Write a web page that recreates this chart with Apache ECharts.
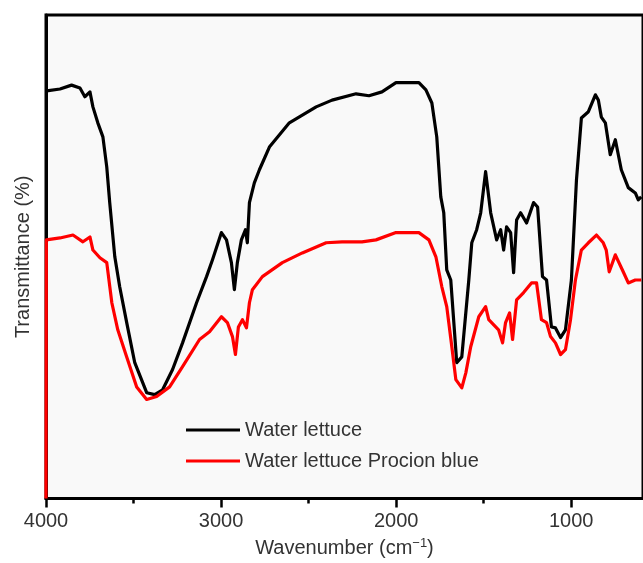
<!DOCTYPE html>
<html><head><meta charset="utf-8">
<script src="https://cdn.jsdelivr.net/npm/echarts@6/dist/echarts.min.js"></script>
<style>html,body{margin:0;padding:0;background:#fff}#c{width:643px;height:563px}</style>
</head><body><div id="c"></div><script>
const seriesNames = ['Water lettuce', 'Water lettuce Procion blue'];
const majorTicks = [4000, 3000, 2000, 1000];
const minorTicks = [3500, 2500, 1500];
const lettuceWn = [3996,3920,3854,3806,3778,3749,3732,3704,3675,3653,3636,3607,3579,3539,3493,3425,3379,3334,3277,3220,3140,3083,3049,2998,2969,2941,2924,2907,2884,2861,2850,2838,2810,2781,2724,2610,2457,2366,2229,2155,2081,2001,1870,1830,1796,1768,1745,1728,1711,1688,1654,1625,1585,1568,1540,1517,1489,1460,1426,1403,1386,1369,1346,1329,1312,1289,1255,1215,1192,1164,1141,1113,1090,1061,1033,999,970,942,902,862,845,828,805,777,748,714,674,634,617,600];
const lettuceT = [84.3,84.7,85.5,84.9,83.1,84.1,81.0,77.7,74.8,68.6,61.2,50.0,43.8,36.4,28.1,21.9,21.5,22.5,26.7,32.2,40.5,45.9,49.4,55.0,53.5,48.8,43.2,48.8,53.5,55.6,52.9,61.2,65.3,68.0,72.7,77.7,81.0,82.4,83.7,83.3,84.1,86.0,86.0,84.5,81.8,74.8,62.4,59.1,47.3,45.2,28.1,29.3,45.2,52.9,55.6,59.1,67.6,59.1,53.5,55.6,51.4,56.2,55.0,46.7,57.6,59.1,57.0,61.2,60.3,45.9,45.2,35.5,35.3,33.3,34.9,45.2,65.9,78.7,80.0,83.5,82.4,78.9,77.7,71.1,74.2,68.0,64.3,63.2,61.8,62.4];
const procionWn = [4000,3998,3920,3846,3789,3749,3732,3692,3653,3624,3590,3539,3482,3425,3368,3294,3220,3123,3066,2998,2964,2935,2918,2901,2878,2855,2838,2821,2764,2650,2536,2400,2309,2195,2115,2001,1870,1813,1773,1739,1711,1682,1659,1625,1602,1574,1528,1489,1471,1415,1392,1375,1352,1335,1312,1272,1227,1198,1170,1141,1118,1090,1061,1033,1004,976,942,902,856,817,800,783,748,703,674,634,600];
const procionT = [0,53.5,53.9,54.5,53.1,54.1,51.4,49.8,48.8,40.5,34.9,29.3,23.1,20.5,21.1,23.1,27.3,32.9,34.5,37.6,36.4,33.5,29.8,35.5,37.0,35.3,40.5,43.2,45.9,48.8,50.8,52.9,53.1,53.1,53.5,55.0,55.0,53.5,50.0,43.8,39.7,31.4,24.6,22.9,26.0,31.4,37.6,39.7,37.0,34.9,32.2,36.4,38.4,32.9,41.1,42.6,44.6,44.6,37.0,36.4,33.5,32.2,29.8,30.8,37.0,45.2,51.4,52.9,54.5,52.9,51.4,46.9,50.4,46.9,44.6,45.2,45.2];

const FONT = 'Liberation Sans, Arial, Helvetica, sans-serif';
const TXT = '#333';
const FS = 20;
const zip = (a, b) => a.map((v, i) => [v, b[i]]);

const chart = echarts.init(document.getElementById('c'), null, {renderer: 'canvas'});
chart.setOption({
  animation: false,
  backgroundColor: '#fff',
  grid: {left: 46, right: -2, top: 15, bottom: 64, show: true, borderColor: '#000', borderWidth: 3, backgroundColor: '#f9f9f9'},
  legend: {
    data: seriesNames, orient: 'vertical', left: 186, top: 420, padding: 0,
    icon: 'rect', itemWidth: 54, itemHeight: 3, itemGap: 11,
    textStyle: {fontSize: FS, color: TXT, fontFamily: FONT, lineHeight: 20}
  },
  xAxis: [{
    type: 'value', inverse: true, min: 590, max: 4000, position: 'bottom',
    axisLine: {show: true, onZero: false, lineStyle: {color: '#000', width: 3}},
    axisTick: {show: true, customValues: majorTicks, length: 9, lineStyle: {color: '#000', width: 2.5}},
    axisLabel: {customValues: majorTicks, margin: 13, fontSize: FS, color: TXT, fontFamily: FONT,
      formatter: v => String(v)},
    splitLine: {show: false},
    name: 'Wavenumber (cm{sup|−1})', nameLocation: 'middle', nameGap: 37,
    nameTextStyle: {fontSize: FS, color: TXT, fontFamily: FONT,
      rich: {sup: {fontSize: 13, color: TXT, fontFamily: FONT, verticalAlign: 'top', padding: [0, 0, 10, 0]}}}
  }, {
    type: 'value', inverse: true, min: 590, max: 4000, position: 'bottom',
    axisLine: {show: false, onZero: false},
    axisTick: {show: true, customValues: minorTicks, length: 5, lineStyle: {color: '#000', width: 2.5}},
    axisLabel: {show: false}, splitLine: {show: false}
  }],
  yAxis: {
    type: 'value', min: 0, max: 100,
    axisLine: {show: true, lineStyle: {color: '#000', width: 3}},
    axisTick: {show: false}, axisLabel: {show: false}, splitLine: {show: false},
    name: 'Transmittance (%)', nameLocation: 'middle', nameGap: 13, nameRotate: 90,
    nameTextStyle: {fontSize: FS, color: TXT, fontFamily: FONT}
  },
  series: [
    {name: seriesNames[0], type: 'line', data: zip(lettuceWn, lettuceT), symbol: 'none', showSymbol: false,
     lineStyle: {color: '#000', width: 3.2, join: 'round'}, itemStyle: {color: '#000'}, z: 3},
    {name: seriesNames[1], type: 'line', data: zip(procionWn, procionT), symbol: 'none', showSymbol: false,
     lineStyle: {color: '#ff0000', width: 3.2, join: 'round'}, itemStyle: {color: '#ff0000'}, z: 4}
  ]
});
</script></body></html>
